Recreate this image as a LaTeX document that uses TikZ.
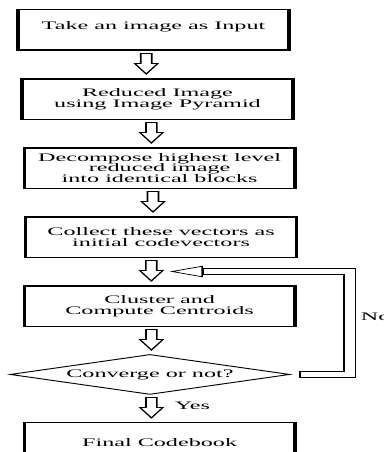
\documentclass[tikz,border=0pt]{standalone}
\usepackage{fontspec}
\setmainfont{Liberation Serif}
\usetikzlibrary{arrows.meta, positioning, calc, shapes.geometric}

\tikzset{
  hollowdown/.pic={
    \draw[line width=0.8pt] (-2.6,11) -- (-2.6,1) -- (-5.5,1) -- (0,-9.5)
      -- (5.5,1) -- (2.6,1) -- (2.6,11) -- cycle;
  }
}

\begin{document}
\begin{tikzpicture}[
  x=1pt, y=1pt,
  box/.style={draw, line width=1.5pt, align=center, minimum width=129pt, minimum height=40.5pt, inner sep=2pt},
  test/.style={draw, diamond, aspect=3.3, line width=0.9pt, minimum width=133.3pt, minimum height=40pt, inner sep=0pt},
  fbline/.style={draw, double, double distance=4.8pt, line width=0.7pt, line cap=rect},
  fbhead/.style={-{Triangle[open, length=15.7pt, width=11.3pt]}, line width=0.7pt},
  lbl/.style={anchor=west, inner sep=0pt},
  font=\fontsize{11.5}{10.6}\selectfont,
  node distance=27pt
]
\useasboundingbox (0,0) rectangle (383,-452);
% the whole chart is stretched sideways
\begin{scope}[transform canvas={xscale=2.1}]
\node[box, text depth=9pt] (take) at (73.1,-30) {Take an image as Input};
\node[box, below=of take, xshift=1.9pt] (reduce) {Reduced Image\\using Image Pyramid};
\node[box, below=of reduce, xshift=1pt] (decomp) {Decompose highest level\\reduced image\\into identical blocks};
\node[box, below=of decomp, xshift=0.7pt] (collect) {Collect these vectors as\\initial codevectors};
\node[box, below=of collect, xshift=-0.7pt] (cluster) {Cluster and\\Compute Centroids};
\node[test, below=of cluster, xshift=-4.6pt] (conv) {Converge or not?};
\node[box, below=of conv, xshift=4.6pt] (final) {Final Codebook};

\foreach \a/\b/\s [count=\i] in {take/reduce/-4.4, reduce/decomp/-3.4, decomp/collect/-3.5,
    collect/cluster/-4.3, cluster/conv/-1.6, conv/final/-1.6} {
  \coordinate (a\i) at ($(\a.south)!.5!(\b.north)+(\s,0)$);
  \pic at (a\i) {hollowdown};
}

% loop back when not converged
\coordinate (fbtip) at ($(a4)+(8.8,0)$);
\coordinate (fbbase) at ($(fbtip)+(15.7,0)$);
\coordinate (fbturn) at ($(conv.east)+(28,0)$);
\draw[fbline, shorten >=3.1pt] ([xshift=7pt]conv.east) -| (fbturn |- fbbase) -- (fbbase);
\draw[fbhead] (fbbase) -- (fbtip);

\node[lbl, xshift=5.2pt, yshift=10pt] (no) at (fbturn |- cluster.south) {No};
\node[lbl] (yes) at ($(a6)+(11,3)$) {Yes};
\end{scope}
\end{tikzpicture}
\end{document}
